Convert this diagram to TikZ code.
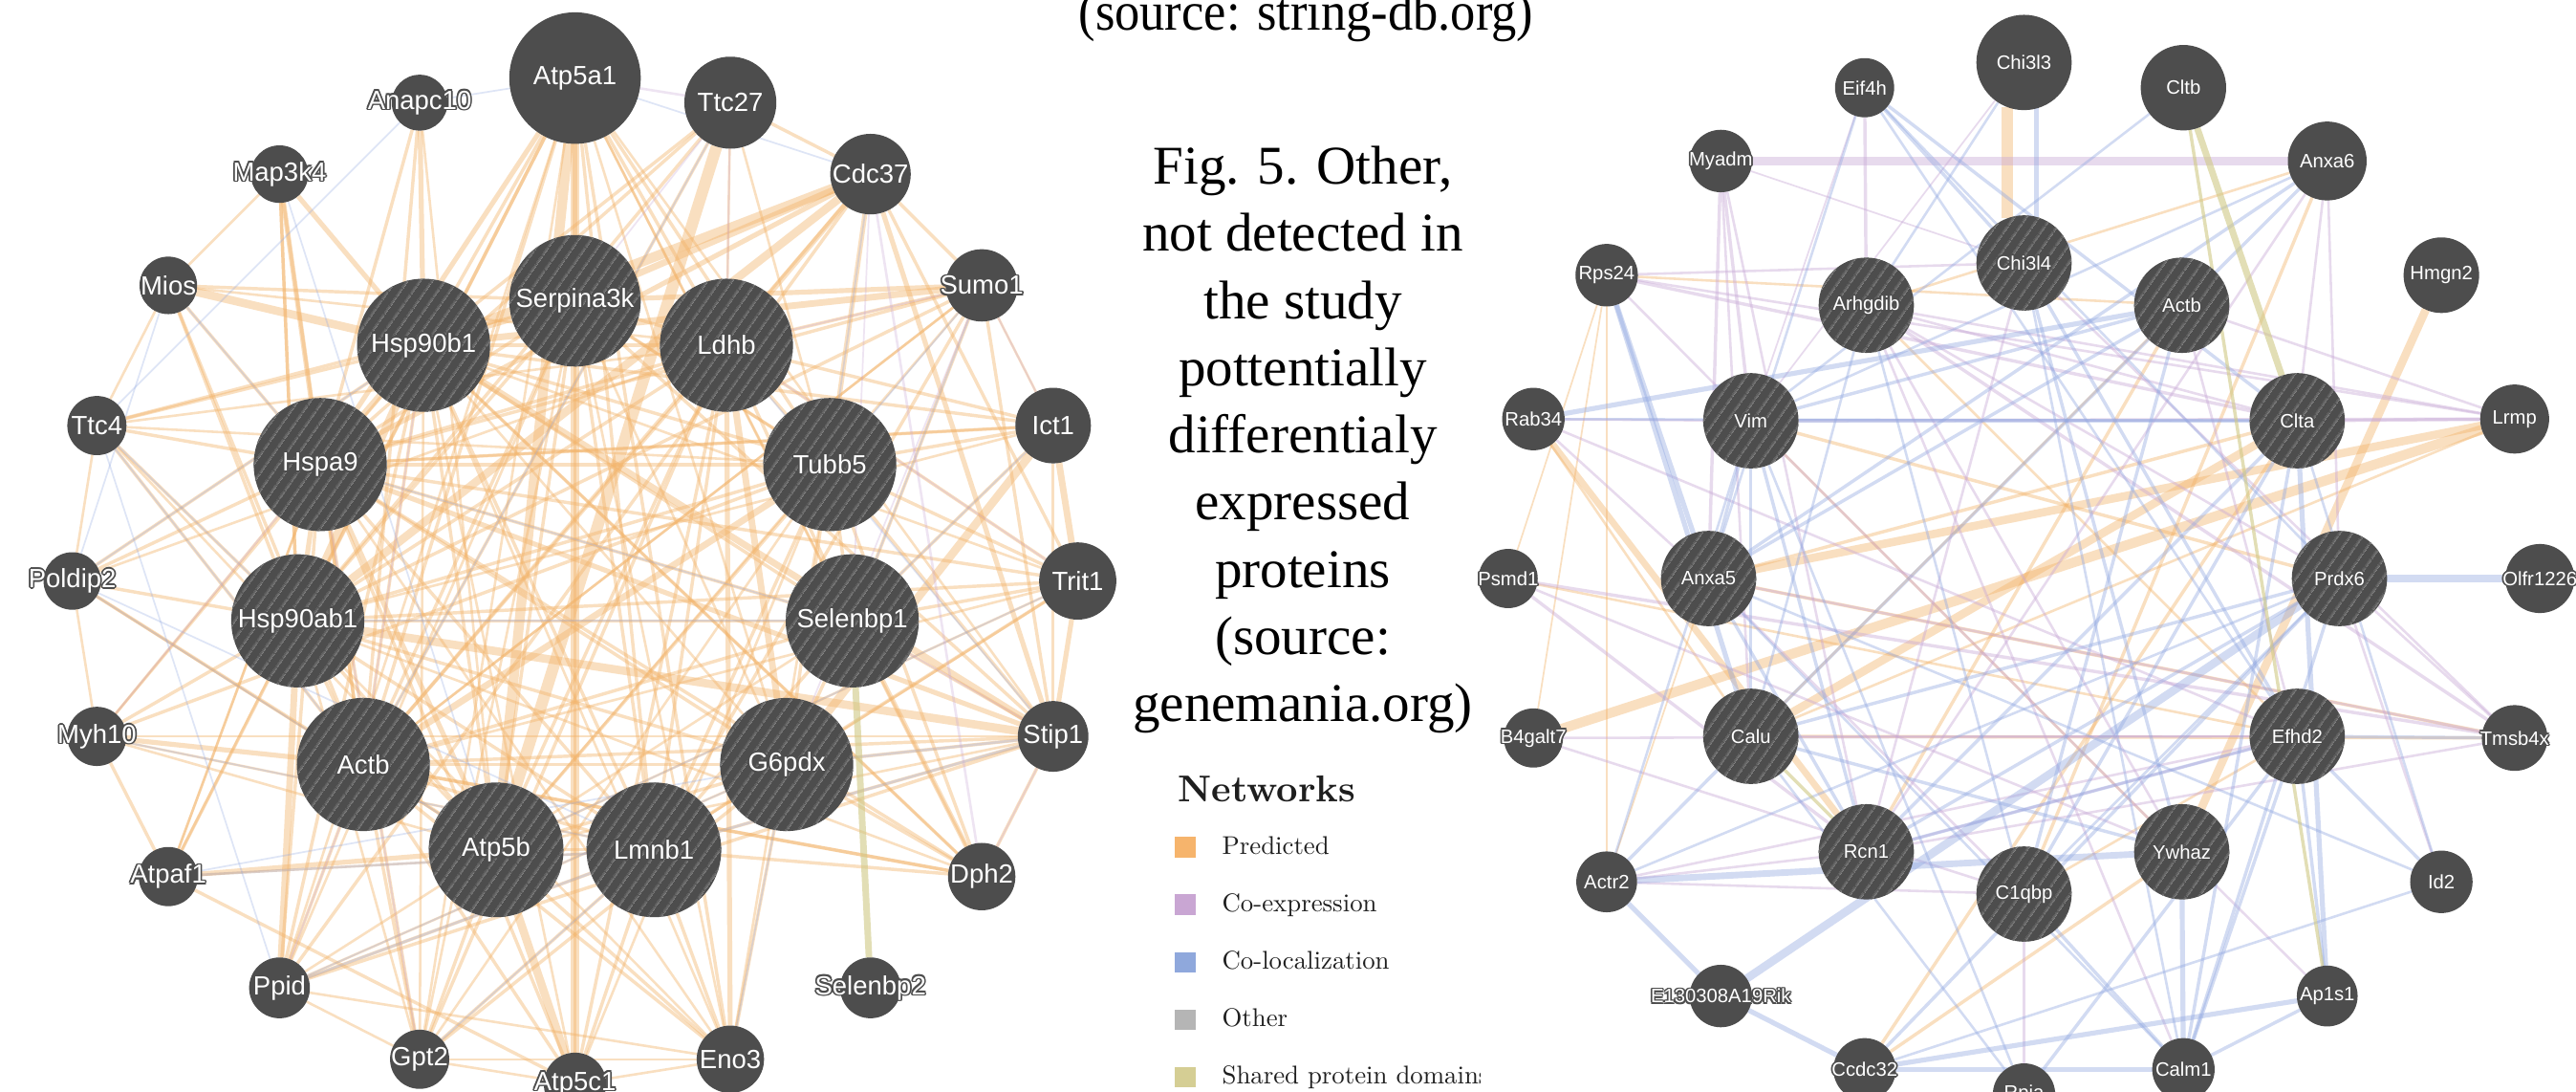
\documentclass[tikz,border=0pt]{standalone}
\usepackage{fontspec}
\newfontfamily\capfont{Liberation Serif}
\newfontfamily\labfont{Liberation Sans}
\newfontfamily\legfont{lmroman10-regular.otf}[BoldFont=lmroman10-bold.otf]
\usetikzlibrary{patterns.meta}
\pgfdeclarelayer{back}
\pgfdeclarelayer{edges}
\pgfsetlayers{back,edges,main}
\definecolor{ngray}{RGB}{77,77,77}
\definecolor{hgray}{RGB}{108,108,108}
\definecolor{cpred}{RGB}{243,180,106}
\definecolor{ccoex}{RGB}{200,168,214}
\definecolor{ccoloc}{RGB}{148,170,226}
\definecolor{cshare}{RGB}{208,200,132}
\definecolor{lpred}{RGB}{246,180,108}
\definecolor{lcoex}{RGB}{201,166,211}
\definecolor{lcoloc}{RGB}{143,168,220}
\definecolor{lother}{RGB}{181,181,181}
\definecolor{lshare}{RGB}{213,206,148}
\definecolor{legtext}{RGB}{30,30,30}
\newbox\hlbox
\newcommand\hl[1]{\makebox[0pt][c]{\setbox\hlbox=\hbox{#1}%
 \rlap{\color{ngray}\kern-1pt\copy\hlbox}%
 \rlap{\color{ngray}\kern1pt\copy\hlbox}%
 \rlap{\color{ngray}\raise1pt\copy\hlbox}%
 \rlap{\color{ngray}\lower1pt\copy\hlbox}%
 \rlap{\color{ngray}\kern-.7pt\raise.7pt\copy\hlbox}%
 \rlap{\color{ngray}\kern.7pt\raise.7pt\copy\hlbox}%
 \rlap{\color{ngray}\kern-.7pt\lower.7pt\copy\hlbox}%
 \rlap{\color{ngray}\kern.7pt\lower.7pt\copy\hlbox}%
 \box\hlbox}}
\tikzset{
 nd/.style={circle, fill=ngray, inner sep=0pt, outer sep=0pt, text=white, minimum size=#1},
 ndh/.style={nd=#1, postaction={pattern={Lines[angle=55,distance=6.5pt,line width=1.1pt]}, pattern color=hgray}},
 lf/.style={font=\labfont\fontsize{16}{17}\selectfont},
 rf/.style={font=\labfont\fontsize{11.8}{12.5}\selectfont},
 pe/.style={draw=cpred, draw opacity=0.42, line width=#1},
 ce/.style={draw=ccoex, draw opacity=0.42, line width=#1},
 le/.style={draw=ccoloc, draw opacity=0.42, line width=#1},
 se/.style={draw=cshare, draw opacity=0.6, line width=#1},
 captext/.style={font=\capfont\fontsize{33.2}{40}\selectfont, anchor=base, inner sep=0pt},
 legitem/.style={font=\legfont\fontsize{15.6}{17}\selectfont, text=legtext, anchor=base west, inner sep=0pt},
 legsq/.style={minimum size=12.6pt, inner sep=0pt, fill=#1}
}
\begin{document}
\begin{tikzpicture}[x=1pt,y=-1pt]
\path[use as bounding box] (0,0) rectangle (1568,664);
\begin{pgfonlayer}{back}
\fill[white] (0,0) rectangle (1568,664);
\end{pgfonlayer}

% ---------------- left network ----------------
\begin{scope}[shift={(350,353.5)}, every node/.style={lf}]
\node[nd=80pt] (a5a) at (-90:306) {\hl{Atp5a1}};
\node[nd=56pt] (t27) at (-72:306) {\hl{Ttc27}};
\node[nd=49pt] (cd37) at (-54:306) {\hl{Cdc37}};
\node[nd=44pt] (sumo) at (-36:306) {\hl{Sumo1}};
\node[nd=46pt] (ict) at (-18:306) {\hl{Ict1}};
\node[nd=47pt] (trit) at (0:306) {\hl{Trit1}};
\node[nd=43pt] (stip) at (18:306) {\hl{Stip1}};
\node[nd=41pt] (dph) at (36:306) {\hl{Dph2}};
\node[nd=37pt] (sb2) at (54:306) {\hl{Selenbp2}};
\node[nd=41pt] (eno) at (72:306) {\hl{Eno3}};
\node[nd=38pt] (a5c) at (90:306) {\hl{Atp5c1}};
\node[nd=36pt] (gpt) at (108:306) {\hl{Gpt2}};
\node[nd=37pt] (ppid) at (126:306) {\hl{Ppid}};
\node[nd=36pt] (apf) at (144:306) {\hl{Atpaf1}};
\node[nd=36pt] (myh) at (162:306) {\hl{Myh10}};
\node[nd=35pt] (pol) at (180:306) {\hl{Poldip2}};
\node[nd=36pt] (tt4) at (198:306) {\hl{Ttc4}};
\node[nd=35pt] (mios) at (216:306) {\hl{Mios}};
\node[nd=35pt] (map) at (234:306) {\hl{Map3k4}};
\node[nd=34pt] (anap) at (252:306) {\hl{Anapc10}};
\node[ndh=80pt] (sp) at (-90:170.5) {\hl{Serpina3k}};
\node[ndh=81pt] (ld) at (-57.27:170.5) {\hl{Ldhb}};
\node[ndh=81pt] (tu) at (-24.55:170.5) {\hl{Tubb5}};
\node[ndh=81pt] (sb1) at (8.18:170.5) {\hl{Selenbp1}};
\node[ndh=81pt] (g6) at (40.91:170.5) {\hl{G6pdx}};
\node[ndh=82pt] (lm) at (73.64:170.5) {\hl{Lmnb1}};
\node[ndh=82pt] (a5b) at (106.36:170.5) {\hl{Atp5b}};
\node[ndh=81pt] (acl) at (139.09:170.5) {\hl{Actb}};
\node[ndh=81pt] (h9ab) at (171.82:170.5) {\hl{Hsp90ab1}};
\node[ndh=81pt] (hs9) at (204.55:170.5) {\hl{Hspa9}};
\node[ndh=81pt] (h9b) at (237.27:170.5) {\hl{Hsp90b1}};
\end{scope}

% ---------------- right network ----------------
\begin{scope}[shift={(1232,352)}, every node/.style={rf}]
\node[nd=58pt] (c3) at (-90:314) {\hl{Chi3l3}};
\node[nd=52pt] (cltb) at (-72:314) {\hl{Cltb}};
\node[nd=48pt] (anx6) at (-54:314) {\hl{Anxa6}};
\node[nd=46pt] (hmg) at (-36:314) {\hl{Hmgn2}};
\node[nd=42pt] (lrmp) at (-18:314) {\hl{Lrmp}};
\node[nd=42pt] (olfr) at (0:314) {\hl{Olfr1226}};
\node[nd=40pt] (tmsb) at (18:314) {\hl{Tmsb4x}};
\node[nd=38pt] (id2) at (36:314) {\hl{Id2}};
\node[nd=37pt] (ap1) at (54:314) {\hl{Ap1s1}};
\node[nd=38pt] (calm) at (72:314) {\hl{Calm1}};
\node[nd=38pt] (rpia) at (90:314) {\hl{Rpia}};
\node[nd=38pt] (ccdc) at (108:314) {\hl{Ccdc32}};
\node[nd=38pt] (erik) at (126:314) {\hl{E130308A19Rik}};
\node[nd=37pt] (actr) at (144:314) {\hl{Actr2}};
\node[nd=36pt] (b4g) at (162:314) {\hl{B4galt7}};
\node[nd=36pt] (psmd) at (180:314) {\hl{Psmd1}};
\node[nd=38pt] (rab) at (198:314) {\hl{Rab34}};
\node[nd=38pt] (rps) at (216:314) {\hl{Rps24}};
\node[nd=38pt] (myadm) at (234:314) {\hl{Myadm}};
\node[nd=36pt] (eif) at (252:314) {\hl{Eif4h}};
\node[ndh=58pt] (c4) at (-90:192) {\hl{Chi3l4}};
\node[ndh=58pt] (acR) at (-60:192) {\hl{Actb}};
\node[ndh=58pt] (clta) at (-30:192) {\hl{Clta}};
\node[ndh=58pt] (prdx) at (0:192) {\hl{Prdx6}};
\node[ndh=58pt] (efhd) at (30:192) {\hl{Efhd2}};
\node[ndh=58pt] (ywh) at (60:192) {\hl{Ywhaz}};
\node[ndh=58pt] (c1q) at (90:192) {\hl{C1qbp}};
\node[ndh=58pt] (rcn) at (120:192) {\hl{Rcn1}};
\node[ndh=58pt] (calu) at (150:192) {\hl{Calu}};
\node[ndh=58pt] (anx5) at (180:192) {\hl{Anxa5}};
\node[ndh=58pt] (vim) at (210:192) {\hl{Vim}};
\node[ndh=58pt] (arh) at (240:192) {\hl{Arhgdib}};
\end{scope}

% ---------------- edges ----------------
\begin{pgfonlayer}{edges}
% left: predicted
\foreach \a/\b/\w in {a5a/a5b/6, a5a/a5c/5, a5a/apf/2, a5a/lm/2, a5a/acl/2, a5a/h9ab/2, a5a/hs9/3, a5a/h9b/2, a5a/sp/3, a5a/ld/2, a5a/g6/1.5, a5a/eno/2, a5a/gpt/1.5, a5a/ppid/1.5, a5a/tu/2, a5a/sb1/1.5, a5a/stip/1.5, a5a/dph/1.5,
 a5b/a5c/5, a5b/apf/3, a5b/hs9/3, a5b/h9ab/2, a5b/h9b/2, a5b/acl/2, a5b/ld/2, a5b/eno/2, a5b/g6/2, a5b/lm/2, a5b/tu/2, a5b/sp/2, a5b/ppid/1.5, a5b/gpt/2, a5b/myh/1.5, a5b/stip/1.5, a5b/tt4/1.5, a5b/pol/1.5, a5b/t27/7, a5b/sb1/1.5, a5b/sumo/1.5, a5b/trit/1.5,
 a5c/apf/2, a5c/lm/2, a5c/acl/2, a5c/hs9/2, a5c/ld/2, a5c/sp/2, a5c/eno/1.5, a5c/gpt/1.5, a5c/h9b/1.5, a5c/tu/1.5,
 h9b/h9ab/5, h9b/hs9/4, h9b/cd37/6, h9b/stip/4, h9b/ppid/2, h9b/sb1/2, h9b/sp/3, h9b/ld/2, h9b/acl/2, h9b/tu/2, h9b/mios/5, h9b/map/3, h9b/anap/3, h9b/tt4/2, h9b/pol/2, h9b/myh/1.5, h9b/sumo/4, h9b/t27/2, h9b/lm/2, h9b/g6/1.5, h9b/trit/1.5, h9b/dph/1.5,
 h9ab/cd37/5, h9ab/stip/5, h9ab/ppid/4, h9ab/hs9/3, h9ab/acl/2, h9ab/tu/2, h9ab/ld/2, h9ab/g6/2, h9ab/lm/2, h9ab/sp/2, h9ab/sb1/2, h9ab/tt4/2, h9ab/pol/2, h9ab/myh/2, h9ab/apf/1.5, h9ab/gpt/1.5, h9ab/mios/2, h9ab/map/2, h9ab/sumo/2, h9ab/ict/1.5, h9ab/trit/2, h9ab/dph/1.5, h9ab/t27/2, h9ab/eno/1.5,
 hs9/stip/3, hs9/acl/2, hs9/tu/2, hs9/lm/2, hs9/ld/2, hs9/sp/2, hs9/g6/2, hs9/sb1/2, hs9/tt4/2, hs9/pol/2, hs9/myh/1.5, hs9/map/3, hs9/mios/2, hs9/gpt/2, hs9/ict/1.5, hs9/dph/2, hs9/cd37/3, hs9/ppid/2, hs9/eno/1.5, hs9/apf/1.5,
 acl/tu/4, acl/lm/2, acl/g6/2, acl/ld/2, acl/sb1/2, acl/myh/3, acl/ppid/2, acl/gpt/2, acl/eno/2, acl/stip/2, acl/trit/1.5, acl/sumo/1.5, acl/pol/2, acl/tt4/2, acl/sp/2, acl/cd37/2, acl/dph/2,
 tu/lm/2, tu/g6/2, tu/ld/2, tu/sb1/2, tu/stip/2, tu/cd37/3, tu/ict/2, tu/trit/2, tu/dph/2, tu/gpt/1.5, tu/eno/1.5, tu/myh/2, tu/sp/2, tu/tt4/1.5,
 ld/g6/4, ld/eno/3, ld/gpt/2, ld/sb1/2, ld/sp/2, ld/lm/2, ld/sumo/2, ld/ict/2, ld/cd37/3, ld/trit/2, ld/mios/1.5, ld/tt4/1.5, ld/pol/1.5,
 g6/eno/2, g6/gpt/2, g6/sb1/2, g6/lm/2, g6/dph/2, g6/stip/2, g6/ict/5, g6/trit/2, g6/ppid/1.5,
 sb1/stip/2, sb1/trit/2, sb1/ict/2, sb1/dph/3, sb1/sumo/2, sb1/lm/2,
 lm/sumo/2, lm/eno/2, lm/gpt/2, lm/ppid/2, lm/stip/2, lm/dph/2, lm/trit/1.5, lm/myh/1.5, lm/sp/2,
 sp/sumo/3, sp/cd37/4, sp/mios/2, sp/tt4/2, sp/stip/2, sp/ppid/1.5, sp/eno/1.5, sp/gpt/1.5, sp/g6/1.5, sp/tu/1.5,
 ict/trit/4, trit/stip/3, ict/stip/2, cd37/stip/3, cd37/sumo/2, cd37/ppid/2, cd37/trit/2, stip/ppid/2, stip/dph/2, stip/myh/1.5, mios/tt4/1.5, map/mios/1.5, tt4/pol/1.5, pol/myh/1.5, myh/apf/2, gpt/eno/1.5, ppid/gpt/1.5,
 t27/cd37/2, t27/acl/2, t27/hs9/2, t27/tu/1.5, t27/ld/1.5, anap/acl/2, anap/hs9/2, anap/a5b/1.5, map/acl/2, map/h9ab/2, mios/acl/2, sumo/stip/2, sumo/ict/1.5, sumo/hs9/2, sumo/acl/1.5, ict/h9b/2, ict/hs9/2, dph/h9b/2, dph/acl/2, trit/hs9/2, eno/ppid/1.5, eno/h9b/1.5, gpt/h9b/1.5, apf/lm/1.5, apf/hs9/1.5}
 {\draw[pe=\w pt] (\a) -- (\b);}
% left: co-localization
\foreach \a/\b/\w in {anap/tt4/1, anap/a5a/1, map/a5b/1, mios/pol/1, tt4/h9ab/1, tt4/acl/1, pol/a5b/1, pol/lm/1, myh/lm/1, apf/lm/1.5, apf/g6/1, ppid/lm/1.5, ppid/g6/1, lm/stip/1.5, g6/stip/1.5, sumo/tu/1, sumo/sb1/1, cd37/tu/1, t27/acl/1, a5a/cd37/1, ld/stip/1, h9ab/sb1/1, hs9/sb1/1, a5b/trit/1, ict/sb1/1, mios/hs9/1, gpt/lm/1, eno/g6/1, tt4/ppid/1, pol/h9b/1}
 {\draw[le=\w pt, draw opacity=0.3] (\a) -- (\b);}
% left: co-expression
\foreach \a/\b/\w in {a5a/t27/1.5, cd37/dph/1.5, cd37/sb1/1, sumo/ict/1, sumo/g6/1, ld/sumo/1, stip/dph/1, stip/sb1/1, t27/ld/1, trit/ld/1, acl/h9b/1, gpt/hs9/1, ppid/acl/1, myh/hs9/1, t27/sp/1}
 {\draw[ce=\w pt, draw opacity=0.3] (\a) -- (\b);}
% left: shared domains
\draw[se=4pt] (sb1) -- (sb2);

% right: predicted
\draw[pe=7pt] (c3.250) -- (c4.110);
\foreach \a/\b/\w in {hmg/ywh/5, b4g/lrmp/6, anx5/lrmp/5, calu/clta/5, rab/rcn/4, rps/acR/1.5, rps/psmd/1, rps/b4g/1, actr/anx5/1, actr/rps/1, vim/prdx/2, tmsb/calu/2, tmsb/anx5/2, arh/efhd/1.5, acR/calu/1.5, ccdc/clta/2, ccdc/ywh/2, c1q/anx6/2, rcn/acR/2, ywh/vim/1.5, anx5/clta/2, psmd/efhd/1.5, calu/lrmp/1.5, rab/calu/1.5, arh/anx6/1.5, c1q/efhd/1.5}
 {\draw[pe=\w pt] (\a) -- (\b);}
% right: co-expression
\foreach \a/\b/\w in {myadm/anx6/5, myadm/vim/2, myadm/anx5/2, myadm/calu/1.5, myadm/rcn/1.5, myadm/c4/1, eif/arh/2, eif/vim/1, c3/vim/1, anx6/clta/1.5, anx6/prdx/1.5, anx6/rcn/1.5, rps/c4/1.5, rps/clta/2, rps/vim/1.5, rps/lrmp/1.5, rab/vim/1.5, rab/anx5/1.5, rab/efhd/1.5, lrmp/clta/2, lrmp/vim/2, lrmp/arh/1.5, lrmp/acR/1.5, tmsb/arh/2, tmsb/prdx/1.5, tmsb/anx5/1.5, tmsb/rcn/1.5, psmd/tmsb/2, psmd/rcn/2, psmd/ywh/1.5, id2/prdx/1.5, ap1/ywh/1.5, rpia/c1q/1.5, actr/rcn/1.5, actr/c1q/1.5, actr/efhd/1.5, arh/clta/1.5, arh/prdx/1.5, arh/ywh/1.5, acR/efhd/1.5, vim/ywh/1.5, calu/efhd/1.5, anx5/c1q/1.5, rcn/efhd/1.5, c4/rcn/1.5, c4/tmsb/1.5, b4g/c1q/1.5, b4g/efhd/1.5, calm/arh/1.5}
 {\draw[ce=\w pt] (\a) -- (\b);}
% right: co-localization
\draw[le=3pt] (c3.285) -- (c4.75);
\foreach \a/\b/\w in {eif/c4/2, eif/clta/2, eif/prdx/1.5, eif/efhd/1.5, eif/anx5/1.5, c3/arh/1.5, cltb/vim/1.5, anx6/anx5/2, anx6/calu/2, anx6/vim/1.5, rps/anx5/3, rps/calu/3, rab/acR/3, rab/clta/1.5, olfr/prdx/5, tmsb/efhd/2, id2/efhd/2, id2/ccdc/1.5, id2/anx5/1.5, ap1/clta/3, ap1/efhd/2, ap1/calm/2, ap1/ccdc/3, calm/ywh/3, calm/efhd/2, calm/clta/2, calm/c1q/2, calm/anx5/1.5, calm/prdx/2, rpia/efhd/2, rpia/vim/1.5, rpia/calu/1.5, ccdc/calm/3, ccdc/erik/3, ccdc/prdx/2, erik/actr/3, erik/prdx/5, actr/ywh/4, actr/calu/2, actr/vim/1.5, actr/prdx/1.5, vim/anx5/2, vim/calu/2, vim/rcn/2, vim/clta/2, vim/acR/2, c4/calm/1.5, c4/ywh/2, c4/efhd/2, acR/anx5/2, acR/c1q/2, clta/rcn/2, clta/c1q/2, prdx/calu/2, prdx/rcn/2, efhd/rcn/2, arh/calu/1.5, arh/c1q/1.5, anx5/rcn/2, calu/ywh/2, c1q/prdx/1.5, id2/clta/1.5}
 {\draw[le=\w pt] (\a) -- (\b);}
% right: shared protein domains
\foreach \a/\b/\w in {cltb/clta/4, cltb/ap1/2, calu/rcn/2}
 {\draw[se=\w pt] (\a) -- (\b);}
\end{pgfonlayer}

% ---------------- caption ----------------
\node[captext] (src) at (795,18.4) {\scalebox{0.92}[1]{(source: string-db.org)}};
\node[captext] (cap1) at (793,112) {Fig. 5. Other,};
\node[captext] (cap2) at (793,152.9) {not detected in};
\node[captext] (cap3) at (793,193.8) {the study};
\node[captext] (cap4) at (793,234.7) {pottentially};
\node[captext] (cap5) at (793,275.6) {differentialy};
\node[captext] (cap6) at (793,316.5) {expressed};
\node[captext] (cap7) at (793,357.4) {proteins};
\node[captext] (cap8) at (793,398.3) {(source:};
\node[captext] (cap9) at (793,439.2) {genemania.org)};

% ---------------- legend ----------------
\node[font=\legfont\bfseries\fontsize{22.7}{24}\selectfont, text=legtext, anchor=base west, inner sep=0pt] (nettitle) at (717,487.6) {Networks};
\node[legsq=lpred] (sq0) at (721.5,515.5) {};
\node[legsq=lcoex] (sq1) at (721.5,550.5) {};
\node[legsq=lcoloc] (sq2) at (721.5,585.5) {};
\node[legsq=lother] (sq3) at (721.5,620.5) {};
\node[legsq=lshare] (sq4) at (721.5,655.5) {};
\node[legitem] (lt0) at (743.7,519.7) {Predicted};
\node[legitem] (lt1) at (743.7,554.7) {Co-expression};
\node[legitem] (lt2) at (743.7,589.7) {Co-localization};
\node[legitem] (lt3) at (743.7,624.7) {Other};
\begin{scope}
\clip (735,635) rectangle (901,664);
\node[legitem] (lt4) at (743.7,659.7) {Shared protein domains};
\end{scope}
\end{tikzpicture}
\end{document}
